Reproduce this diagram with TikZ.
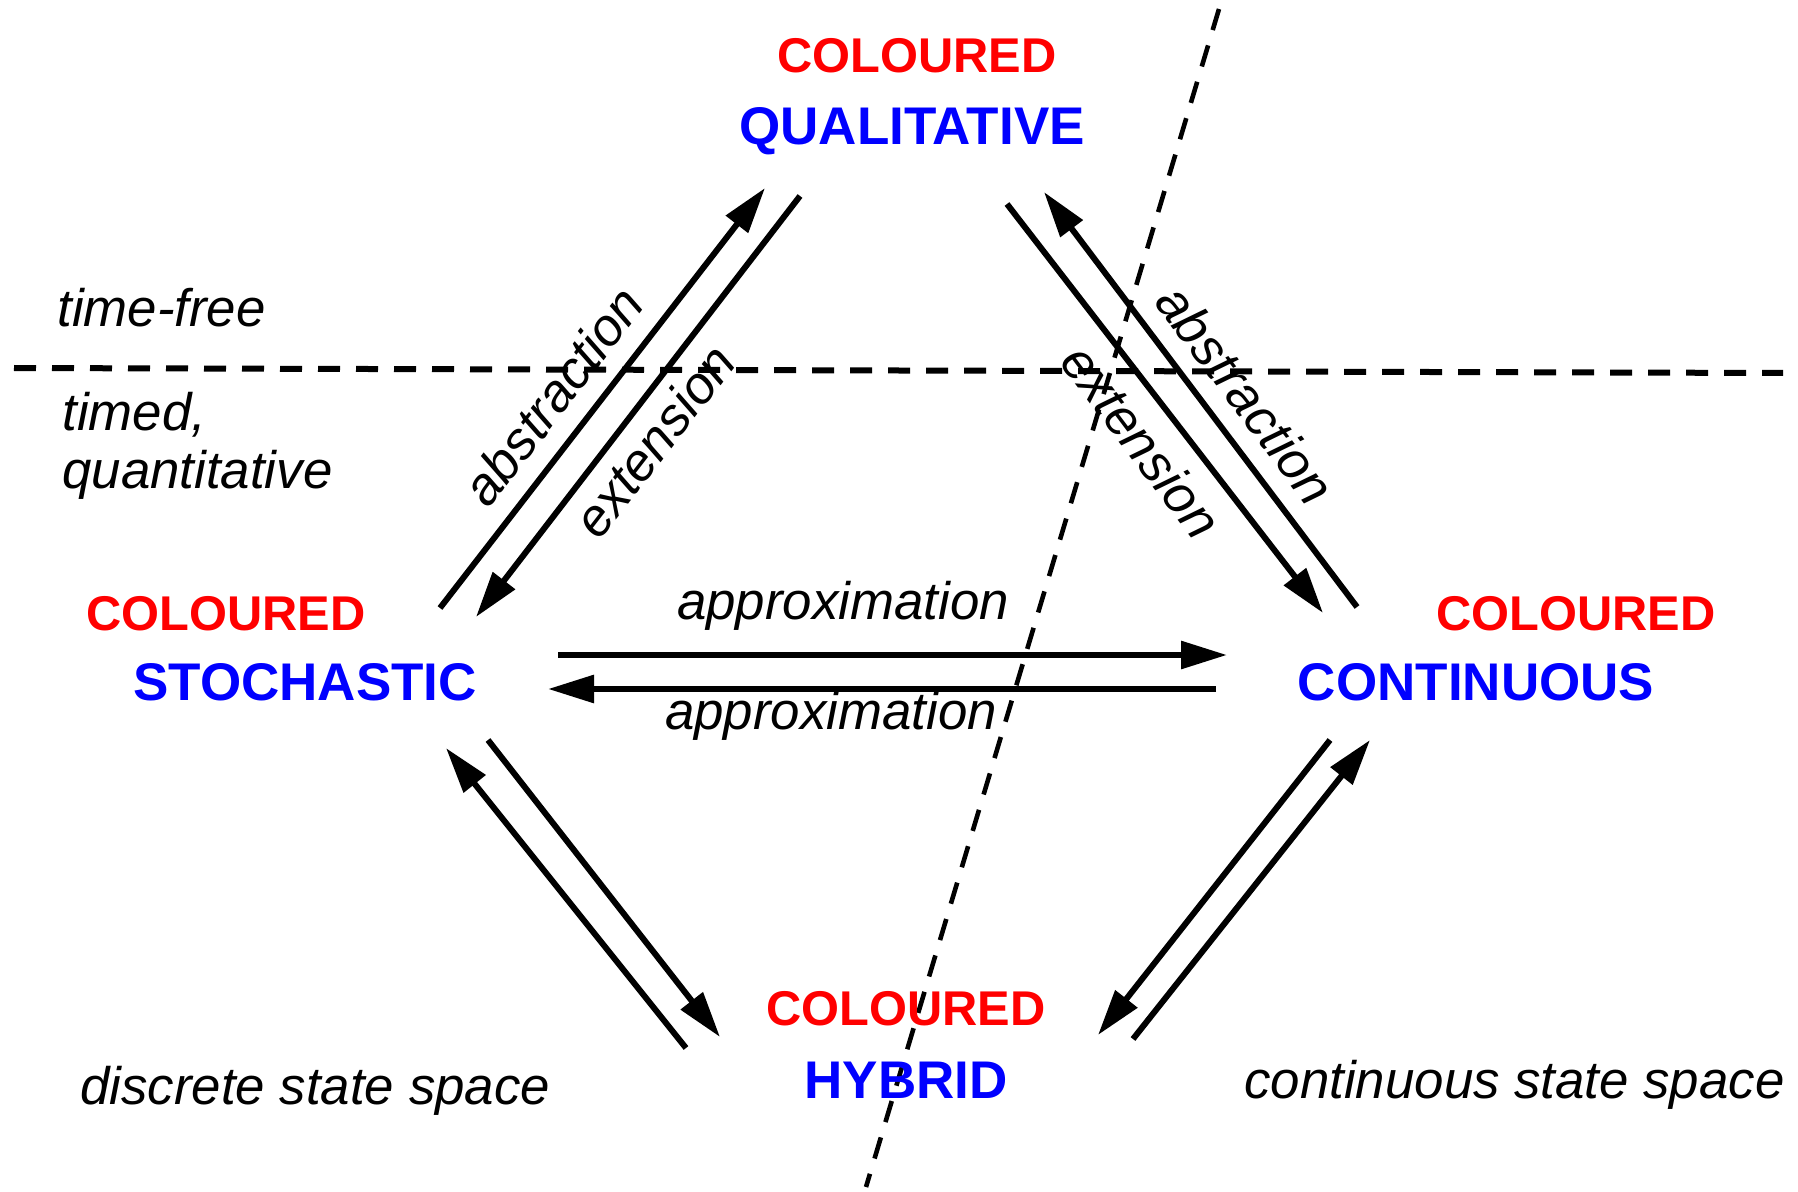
\documentclass[tikz,border=0pt]{standalone}
\usepackage{fontspec}
\setmainfont{Liberation Sans}
\usetikzlibrary{arrows.meta}
\begin{document}
\begin{tikzpicture}[x=0.5pt,y=-0.5pt,
  redt/.style={text=red, font=\fontsize{24.4}{28}\selectfont\bfseries, inner sep=0, anchor=base},
  bluet/.style={text=blue, font=\fontsize{26.5}{30}\selectfont\bfseries, inner sep=0, anchor=base},
  itt/.style={font=\fontsize{26.4}{31}\selectfont\itshape, inner sep=0},
  arr/.style={line width=3pt, -{Triangle[length=23pt,width=13.5pt]}},
  hdash/.style={line width=3pt, dash pattern=on 11pt off 8pt},
  ddash/.style={line width=2.3pt, dash pattern=on 11pt off 8pt}]
\useasboundingbox (0,0) rectangle (1798,1192);

% separator lines
\coordinate (hL) at (14,368);
\coordinate (hR) at (1783,373);
\coordinate (dT) at (1219,9);
\coordinate (dB) at (866,1187);
\draw[hdash] (hL) -- (hR);
\draw[ddash] (dT) -- (dB);

% model classes
\node[redt]  (colQ) at (917,73)   {COLOURED};
\node[bluet] (qual) at (912,145)  {QUALITATIVE};
\node[redt]  (colS) at (226,630)  {COLOURED};
\node[bluet] (stoch) at (305,700) {STOCHASTIC};
\node[redt]  (colC) at (1576,630) {COLOURED};
\node[bluet] (cont) at (1476,700) {CONTINUOUS};
\node[redt]  (colH) at (906,1025) {COLOURED};
\node[bluet] (hyb) at (906,1098)  {HYBRID};

% region labels
\node[itt, anchor=base west] (tfree) at (57,327) {time-free};
\node[itt, anchor=base west] (timed) at (62,430) {timed,};
\node[itt, anchor=base west] (quant) at (62,488) {quantitative};
\node[itt, anchor=base west] (dss) at (80,1104) {discrete state space};
\node[itt, anchor=base west] (css) at (1244,1098) {continuous state space};

% arrow end points
\coordinate (a1s) at (440,608);  \coordinate (a1e) at (765,188);
\coordinate (a2s) at (800,196);  \coordinate (a2e) at (476,617);
\coordinate (a3s) at (1357,607); \coordinate (a3e) at (1044,192);
\coordinate (a4s) at (1007,204); \coordinate (a4e) at (1323,613);
\coordinate (a5s) at (558,655);  \coordinate (a5e) at (1227,655);
\coordinate (a6s) at (1216,689); \coordinate (a6e) at (548,689);
\coordinate (a7s) at (686,1048); \coordinate (a7e) at (446,748);
\coordinate (a8s) at (488,740);  \coordinate (a8e) at (720,1037);
\coordinate (a9s) at (1330,740); \coordinate (a9e) at (1098,1035);
\coordinate (a10s) at (1133,1039); \coordinate (a10e) at (1370,740);

\draw[arr] (a1s) -- (a1e);
\draw[arr] (a2s) -- (a2e);
\draw[arr] (a3s) -- (a3e);
\draw[arr] (a4s) -- (a4e);
\draw[arr] (a5s) -- (a5e);
\draw[arr] (a6s) -- (a6e);
\draw[arr] (a7s) -- (a7e);
\draw[arr] (a8s) -- (a8e);
\draw[arr] (a9s) -- (a9e);
\draw[arr] (a10s) -- (a10e);

% arrow labels
\node[itt, rotate=52.3] (labA1) at (553,396) {abstraction};
\node[itt, rotate=52.3] (labE1) at (654,441) {extension};
\node[itt, rotate=-53] (labA2) at (1246,394) {abstraction};
\node[itt, rotate=-53] (labE2) at (1142,441) {extension};
\node[itt, anchor=base] (labP1) at (843,619) {approximation};
\node[itt, anchor=base] (labP2) at (831,729) {approximation};
\end{tikzpicture}
\end{document}
